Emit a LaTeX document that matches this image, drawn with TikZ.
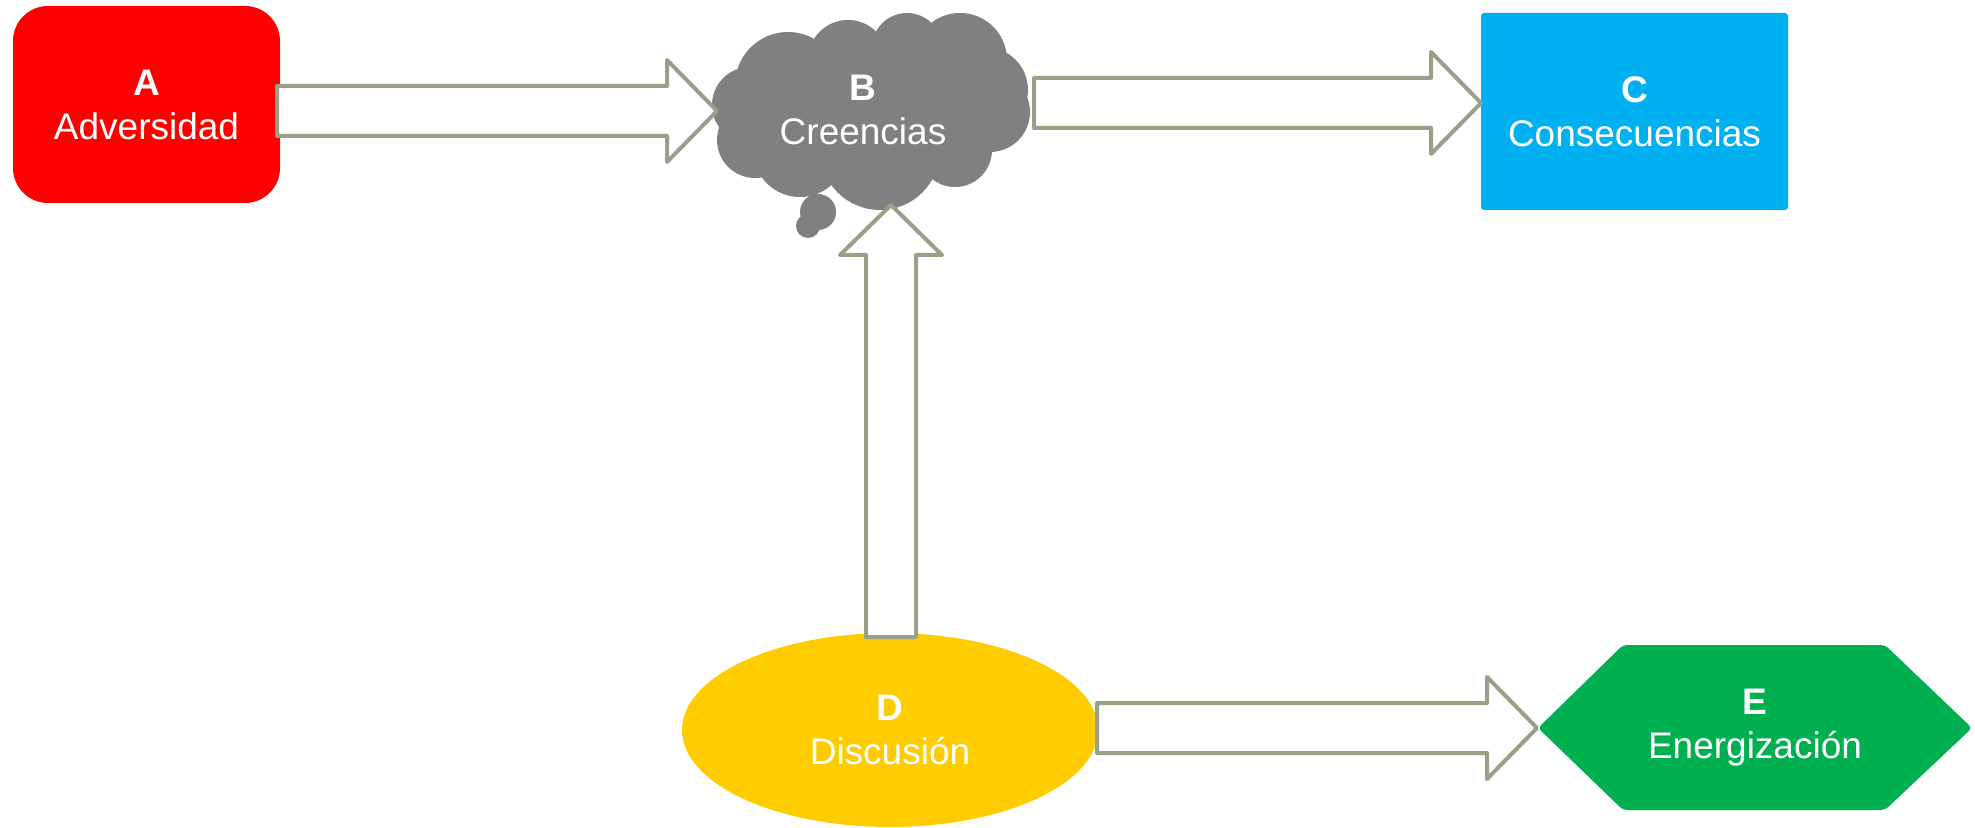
\documentclass[tikz,border=0pt]{standalone}
\usepackage{fontspec}
\setmainfont{Liberation Sans}
\usetikzlibrary{shapes.geometric}
\definecolor{cA}{HTML}{FF0000}
\definecolor{cB}{HTML}{808080}
\definecolor{cC}{HTML}{00B0F0}
\definecolor{cD}{HTML}{FFCC00}
\definecolor{cE}{HTML}{00B050}
\definecolor{arr}{HTML}{98A088}
\begin{document}
\begin{tikzpicture}[x=0.5pt,y=-0.5pt,
 lbl/.style={text=white, font=\fontsize{18.5}{22}\selectfont, align=center, inner sep=0pt},
 arrowline/.style={draw=arr, fill=white, line width=2pt, line join=round},
 pics/blockarrow/.style={code={\path[arrowline] (0,-25) -- (#1-50,-25) -- (#1-50,-51) -- (#1,0) -- (#1-50,51) -- (#1-50,25) -- (0,25) -- cycle;}}
]
\useasboundingbox (0,0) rectangle (1975,828);

% A
\node[lbl, fill=cA, rounded corners=17.5pt, minimum width=133.5pt, minimum height=98.5pt] (A) at (146.5,104.5) {\textbf{A}\\Adversidad};

% B cloud
\fill[cB] (870,110) ellipse[x radius=135, y radius=70]
 (750,105) circle[radius=38]
 (788,85) circle[radius=53]
 (848,60) circle[radius=40]
 (907,48) circle[radius=35]
 (960,60) circle[radius=47]
 (985,90) circle[radius=43]
 (990,112) circle[radius=40]
 (955,150) circle[radius=37]
 (880,150) circle[radius=60]
 (800,150) circle[radius=47]
 (755,140) circle[radius=38]
 (818,212) circle[radius=18]
 (808,226) circle[radius=12];
\node[lbl] (B) at (863,110) {\textbf{B}\\Creencias};

% C
\node[lbl, fill=cC, rounded corners=1.5pt, minimum width=153.5pt, minimum height=98.5pt] (C) at (1634.5,111.5) {\textbf{C}\\Consecuencias};

% D
\node[lbl, ellipse, fill=cD, minimum width=208pt, minimum height=97pt] (D) at (890,730) {\textbf{D}\\Discusión};

% E
\fill[cE, rounded corners=2pt] (1538,728) -- (1623,645) -- (1885,645) -- (1972,728) -- (1885,810) -- (1623,810) -- cycle;
\node[lbl] (E) at (1755,728) {\textbf{E}\\Energización};

% block arrows
\coordinate (ab) at (277,111);
\coordinate (bc) at (1034,103);
\coordinate (db) at (891,637);
\coordinate (de) at (1097,728);
\pic at (ab) {blockarrow=440};
\pic at (bc) {blockarrow=447};
\pic[rotate=90] at (db) {blockarrow=432};
\pic at (de) {blockarrow=440};
\end{tikzpicture}
\end{document}
